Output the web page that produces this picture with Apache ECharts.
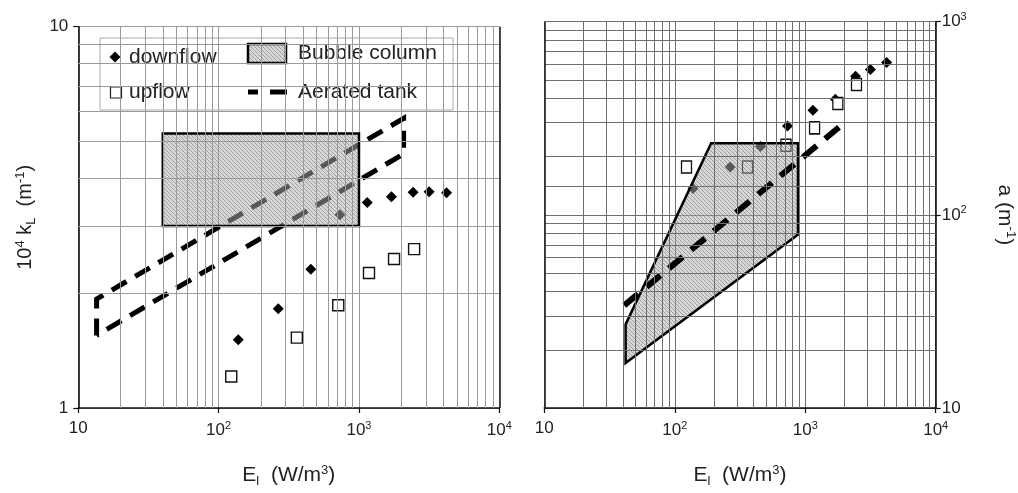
<!DOCTYPE html>
<html>
<head>
<meta charset="utf-8">
<script src="https://cdn.jsdelivr.net/npm/echarts@6/dist/echarts.min.js"></script>
<style>
  html, body { margin: 0; padding: 0; background: #fff; width: 1018px; height: 493px; overflow: hidden; }
  #chart { width: 1018px; height: 493px; }
</style>
</head>
<body>
<div id="chart"></div>
<script>
// Energy input E_l (W/m3) of the measured runs (same for both panels)
const downflowE = [138, 266, 454, 731, 1146, 1703, 2431, 3162, 4208];
const upflowE   = [123, 361, 712, 1179, 1778, 2471];

// Left panel: 10^4 kL (m^-1)
const downflowKL = [1.51, 1.82, 2.31, 3.21, 3.46, 3.58, 3.68, 3.69, 3.67];
const upflowKL   = [1.21, 1.53, 1.86, 2.26, 2.46, 2.61];

// Right panel: interfacial area a (m^-1)
const downflowA = [137, 177, 226, 288, 348, 397, 522, 565, 614];
const upflowA   = [177, 177, 229, 282, 377, 473];

// Literature ranges, left panel (kL)
const bubbleLeftE  = [40, 40, 1000, 1000];
const bubbleLeftKL = [3.0, 5.25, 5.25, 3.0];
const tankLeftE  = [13.5, 13.5, 2080, 2080, 13.5];
const tankLeftKL = [1.55, 1.93, 5.75, 4.64, 1.55];

// Literature ranges, right panel (a)
const bubbleRightE = [42, 42, 190, 880, 880];
const bubbleRightA = [17.1, 27.1, 235, 235, 79];
const tankRightE = [41, 2000];
const tankRightA = [34, 300];

// Minor grid values of the log axes
const minorE  = [20, 30, 40, 50, 60, 70, 80, 90, 200, 300, 400, 500, 600, 700, 800, 900,
                 2000, 3000, 4000, 5000, 6000, 7000, 8000, 9000];
const minorKL = [2, 3, 4, 5, 6, 7, 8, 9];
const minorA  = [20, 30, 40, 50, 60, 70, 80, 90, 140, 200, 300, 400, 500, 600, 700, 800, 900];

const FONT = "'Liberation Sans', Arial, Helvetica, sans-serif";

// Diagonal hatch used for the bubble-column areas
function makeHatch(bg, line) {
  const c = document.createElement('canvas');
  const s = 4;
  c.width = s; c.height = s;
  const g = c.getContext('2d');
  g.fillStyle = bg;
  g.fillRect(0, 0, s, s);
  g.strokeStyle = line;
  g.lineWidth = 1;
  g.beginPath();
  g.moveTo(-1, -1); g.lineTo(s + 1, s + 1);
  g.moveTo(-1, s - 1); g.lineTo(1, s + 1);
  g.moveTo(s - 1, -1); g.lineTo(s + 1, 1);
  g.stroke();
  return c;
}
const hatchCanvas = makeHatch('rgba(175,175,175,0.5)', 'rgba(95,95,95,0.45)');
const hatchFill = { image: hatchCanvas, repeat: 'repeat' };

const supRich = {
  s: { fontSize: 11, fontFamily: FONT, color: '#222', padding: [0, 0, 9, 0] }
};
function powLabel(v) {
  const e = Math.round(Math.log10(v));
  if (e === 0) return '1';
  if (e === 1) return '10';
  return '10{s|' + e + '}';
}

const nameRich = {
  sup: { fontSize: 13, fontFamily: FONT, color: '#222', padding: [0, 0, 10, 0] },
  sub: { fontSize: 13, fontFamily: FONT, color: '#222', padding: [12, 0, 0, 0] }
};

function xAxisCfg(gridIndex) {
  return {
    type: 'log', logBase: 10, min: 10, max: 10000, gridIndex: gridIndex,
    axisLine: { onZero: false, lineStyle: { color: '#111', width: 1.6 } },
    axisTick: { show: true, length: 5, lineStyle: { color: '#111', width: 1.2 } },
    axisLabel: { formatter: powLabel, fontSize: 17, fontFamily: FONT, color: '#222', margin: 12, rich: supRich },
    splitLine: { show: true, lineStyle: { color: gridIndex === 0 ? '#9a9a9a' : '#6e6e6e', width: 1 } },
    name: 'E{sub|l}  (W/m{sup|3})',
    nameLocation: 'middle', nameGap: 55,
    nameTextStyle: { fontSize: 21, fontFamily: FONT, color: '#222', rich: nameRich }
  };
}

function gridLines(axisKey, values, color) {
  return values.map(v => ({ [axisKey]: v, lineStyle: { color: color, width: 1, type: 'solid' } }));
}

function gridSeries(xi, yi, xs, ys, color) {
  return {
    type: 'line', xAxisIndex: xi, yAxisIndex: yi, data: [], z: 1, silent: true,
    markLine: {
      silent: true, symbol: ['none', 'none'], animation: false,
      label: { show: false },
      data: gridLines('xAxis', xs, color).concat(gridLines('yAxis', ys, color))
    }
  };
}

function edgeSeries(xi, yi, xValue) {
  return {
    type: 'line', xAxisIndex: xi, yAxisIndex: yi, data: [], z: 1, silent: true,
    markLine: {
      silent: true, symbol: ['none', 'none'], animation: false, label: { show: false },
      data: [{ xAxis: xValue, lineStyle: { color: '#222', width: 1.6, type: 'solid' } }]
    }
  };
}

function areaSeries(xi, yi, xs, ys, z) {
  return {
    type: 'custom', xAxisIndex: xi, yAxisIndex: yi, z: z, silent: true,
    data: [[xs[0], ys[0]]],
    renderItem: function (params, api) {
      return {
        type: 'polygon',
        shape: { points: xs.map((x, i) => api.coord([x, ys[i]])) },
        style: { fill: hatchFill, stroke: '#000', lineWidth: 2.5, lineJoin: 'miter' }
      };
    }
  };
}

const chart = echarts.init(document.getElementById('chart'), null, { renderer: 'canvas' });

chart.setOption({
  animation: false,
  backgroundColor: '#fff',
  grid: [
    { left: 78.3, top: 26.7, width: 421, height: 385, containLabel: false },
    { left: 544.3, top: 21.7, width: 391.4, height: 390, containLabel: false }
  ],
  xAxis: [xAxisCfg(0), xAxisCfg(1)],
  yAxis: [
    {
      type: 'log', logBase: 10, min: 1, max: 10, gridIndex: 0,
      axisLine: { onZero: false, lineStyle: { color: '#111', width: 1.6 } },
      axisTick: { show: true, length: 5, lineStyle: { color: '#111', width: 1.2 } },
      axisLabel: { formatter: powLabel, fontSize: 17, fontFamily: FONT, color: '#222', margin: 10, rich: supRich },
      splitLine: { show: true, lineStyle: { color: '#9a9a9a', width: 1 } },
      name: '10{sup|4} k{sub|L}  (m{sup|-1})',
      nameLocation: 'middle', nameRotate: 90, nameGap: 40,
      nameTextStyle: { fontSize: 20, fontFamily: FONT, color: '#222', rich: nameRich }
    },
    {
      type: 'log', logBase: 10, min: 10, max: 1000, gridIndex: 1, position: 'right',
      axisLine: { onZero: false, lineStyle: { color: '#111', width: 1.6 } },
      axisTick: { show: true, length: 5, lineStyle: { color: '#111', width: 1.2 } },
      axisLabel: { formatter: powLabel, fontSize: 17, fontFamily: FONT, color: '#222', margin: 6, rich: supRich },
      splitLine: { show: true, lineStyle: { color: '#6e6e6e', width: 1 } },
      name: 'a (m{sup|-1})',
      nameLocation: 'middle', nameRotate: -90, nameGap: 58,
      nameTextStyle: { fontSize: 21, fontFamily: FONT, color: '#222', rich: nameRich }
    }
  ],
  graphic: [
    {
      type: 'group', z: 100,
      children: [
        { type: 'rect', shape: { x: 100, y: 38, width: 353, height: 72 },
          style: { fill: '#fff', stroke: '#aaa', lineWidth: 1 } },
        { type: 'polygon', shape: { points: [[115, 51.5], [120.5, 57], [115, 62.5], [109.5, 57]] },
          style: { fill: '#000' } },
        { type: 'text', x: 129, y: 57,
          style: { text: 'downflow', font: '21px ' + FONT, fill: '#222', verticalAlign: 'middle' } },
        { type: 'rect', shape: { x: 110.5, y: 87, width: 11, height: 11 },
          style: { fill: '#fff', stroke: '#222', lineWidth: 1.2 } },
        { type: 'text', x: 129, y: 92,
          style: { text: 'upflow', font: '21px ' + FONT, fill: '#222', verticalAlign: 'middle' } },
        { type: 'rect', shape: { x: 248, y: 44, width: 38, height: 19 },
          style: { fill: hatchFill, stroke: '#000', lineWidth: 2.5 } },
        { type: 'text', x: 298, y: 53,
          style: { text: 'Bubble column', font: '21px ' + FONT, fill: '#222', verticalAlign: 'middle' } },
        { type: 'line', shape: { x1: 248, y1: 92, x2: 258, y2: 92 },
          style: { stroke: '#000', lineWidth: 5 } },
        { type: 'line', shape: { x1: 270, y1: 92, x2: 287, y2: 92 },
          style: { stroke: '#000', lineWidth: 5 } },
        { type: 'text', x: 298, y: 92,
          style: { text: 'Aerated tank', font: '21px ' + FONT, fill: '#222', verticalAlign: 'middle' } }
      ]
    }
  ],
  series: [
    // ---- left panel ----
    gridSeries(0, 0, minorE, minorKL, '#9a9a9a'),
    edgeSeries(0, 0, 10000),
    {
      name: 'Aerated tank', type: 'line', xAxisIndex: 0, yAxisIndex: 0, z: 2,
      data: tankLeftE.map((e, i) => [e, tankLeftKL[i]]),
      symbol: 'none', silent: true,
      lineStyle: { color: '#000', width: 5, type: [17, 10], cap: 'butt', join: 'miter' }
    },
    {
      name: 'downflow', type: 'scatter', xAxisIndex: 0, yAxisIndex: 0, z: 3,
      data: downflowE.map((e, i) => [e, downflowKL[i]]),
      symbol: 'diamond', symbolSize: 11, itemStyle: { color: '#000', opacity: 1 }
    },
    {
      name: 'upflow', type: 'scatter', xAxisIndex: 0, yAxisIndex: 0, z: 3,
      data: upflowE.map((e, i) => [e, upflowKL[i]]),
      symbol: 'rect', symbolSize: 11,
      itemStyle: { color: '#fff', borderColor: '#111', borderWidth: 1.4, opacity: 1 }
    },
    areaSeries(0, 0, bubbleLeftE, bubbleLeftKL, 4),

    // ---- right panel ----
    gridSeries(1, 1, minorE, minorA, '#6e6e6e'),
    edgeSeries(1, 1, 10),
    {
      name: 'downflow', type: 'scatter', xAxisIndex: 1, yAxisIndex: 1, z: 2,
      data: downflowE.map((e, i) => [e, downflowA[i]]),
      symbol: 'diamond', symbolSize: 11, itemStyle: { color: '#000', opacity: 1 }
    },
    {
      name: 'upflow', type: 'scatter', xAxisIndex: 1, yAxisIndex: 1, z: 2,
      data: upflowE.map((e, i) => [e, upflowA[i]]),
      symbol: 'rect', symbolSize: [10, 12],
      itemStyle: { color: '#fff', borderColor: '#111', borderWidth: 1.4, opacity: 1 }
    },
    areaSeries(1, 1, bubbleRightE, bubbleRightA, 3),
    {
      name: 'Aerated tank', type: 'line', xAxisIndex: 1, yAxisIndex: 1, z: 4,
      data: tankRightE.map((e, i) => [e, tankRightA[i]]),
      symbol: 'none', silent: true,
      lineStyle: { color: '#000', width: 6, type: [18, 11], cap: 'butt' }
    }
  ]
});
</script>
</body>
</html>
